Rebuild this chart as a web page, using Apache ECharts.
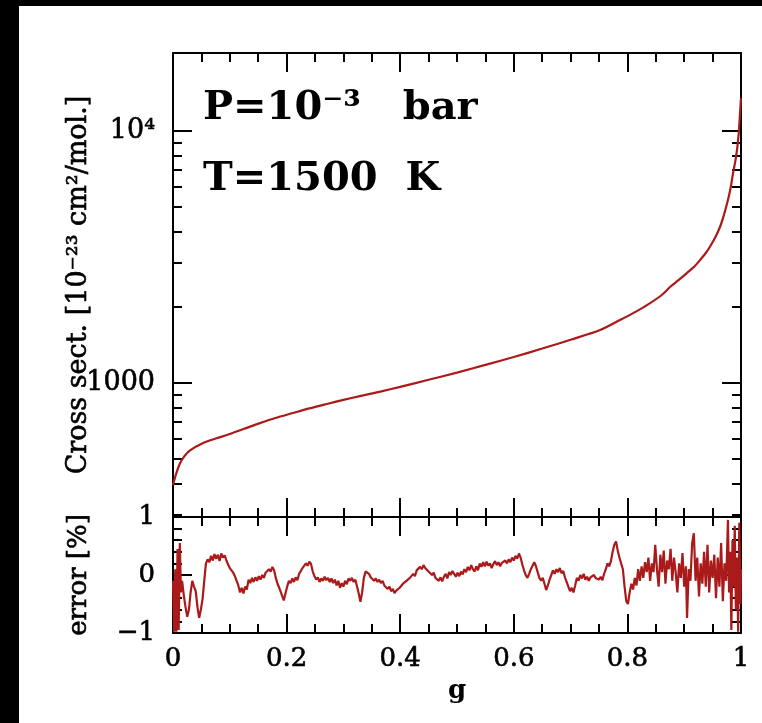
<!DOCTYPE html>
<html>
<head>
<meta charset="utf-8">
<script src="https://cdn.jsdelivr.net/npm/echarts@6/dist/echarts.min.js"></script>
<style>
  html, body { margin: 0; padding: 0; background: #fff; }
  #chart { width: 762px; height: 723px; }
</style>
</head>
<body>
<div id="chart"></div>
<script>
// Cumulative cross-section distribution: g vs cross section [1e-23 cm^2/mol.]
const crossG = [0, 0.006, 0.012, 0.018, 0.03, 0.053, 0.075, 0.095, 0.125, 0.153, 0.18, 0.211, 0.24, 0.271, 0.3, 0.329,
  0.365, 0.4, 0.45, 0.5, 0.55, 0.6, 0.65, 0.7, 0.752, 0.787, 0.815, 0.84, 0.86, 0.875, 0.89, 0.905, 0.918, 0.928,
  0.938, 0.945, 0.955, 0.963, 0.97, 0.977, 0.982, 0.986, 0.99, 0.993, 0.996, 0.998, 1.0];
const crossV = [394, 440, 478, 505, 540, 578, 602, 622, 658, 693, 726, 760, 793, 826, 857, 887,
  925, 965, 1030, 1100, 1180, 1268, 1370, 1485, 1623, 1778, 1920, 2076, 2230, 2404, 2560, 2735, 2900, 3077,
  3280, 3467, 3800, 4160, 4650, 5321, 6000, 6808, 7600, 8420, 9800, 11500, 13500];

// Relative error [%] of the fit, as [g, error] pairs
const errorPoints = [
  [0.000, -0.10], [0.002, -0.98], [0.004, 0.10], [0.006, -0.98], [0.008, 0.45], [0.010, -0.95], [0.012, 0.55],
  [0.014, -0.30], [0.016, -0.10], [0.019, -0.35], [0.022, -0.55], [0.025, -0.72], [0.028, -0.60], [0.031, -0.30],
  [0.034, -0.10], [0.037, -0.20], [0.040, -0.28], [0.043, -0.55], [0.046, -0.74], [0.049, -0.60], [0.052, -0.42],
  [0.055, -0.10], [0.058, 0.20], [0.061, 0.27], [0.064, 0.22], [0.067, 0.33], [0.070, 0.25], [0.073, 0.36],
  [0.076, 0.28], [0.079, 0.35], [0.082, 0.24], [0.085, 0.37], [0.088, 0.30], [0.091, 0.34], [0.094, 0.25],
  [0.097, 0.18], [0.100, 0.12], [0.103, 0.15], [0.106, 0.04], [0.109, -0.02], [0.112, -0.10], [0.115, -0.18],
  [0.118, -0.30], [0.121, -0.22], [0.124, -0.32], [0.127, -0.20], [0.130, -0.25], [0.133, -0.08], [0.136, -0.14],
  [0.139, -0.05], [0.142, -0.12], [0.145, -0.04], [0.148, -0.10], [0.151, -0.02], [0.154, -0.08], [0.157, 0.00],
  [0.160, -0.05], [0.163, 0.04], [0.166, 0.02], [0.169, 0.10], [0.172, 0.06], [0.175, 0.14], [0.178, 0.08],
  [0.181, -0.05], [0.184, -0.15], [0.187, -0.22], [0.190, -0.30], [0.193, -0.38], [0.195, -0.44], [0.198, -0.32],
  [0.201, -0.20], [0.204, -0.10], [0.207, -0.14], [0.210, -0.06], [0.213, -0.12], [0.216, -0.04], [0.219, -0.09],
  [0.222, 0.02], [0.225, 0.00], [0.228, 0.12], [0.231, 0.10], [0.234, 0.20], [0.237, 0.16], [0.240, 0.23],
  [0.243, 0.19], [0.246, 0.06], [0.249, -0.02], [0.252, -0.08], [0.255, -0.04], [0.258, -0.12], [0.261, -0.06],
  [0.264, -0.10], [0.267, -0.03], [0.270, -0.09], [0.273, -0.05], [0.276, -0.12], [0.279, -0.06], [0.282, -0.14],
  [0.285, -0.08], [0.288, -0.18], [0.291, -0.10], [0.294, -0.22], [0.297, -0.14], [0.300, -0.20], [0.303, -0.10],
  [0.306, -0.16], [0.309, -0.06], [0.312, -0.10], [0.315, -0.05], [0.318, -0.12], [0.321, -0.08], [0.324, -0.20],
  [0.327, -0.32], [0.330, -0.46], [0.333, -0.30], [0.336, -0.05], [0.339, 0.06], [0.342, 0.09], [0.345, 0.02],
  [0.348, -0.04], [0.351, -0.02], [0.354, -0.10], [0.357, -0.06], [0.360, -0.12], [0.363, -0.08], [0.366, -0.14],
  [0.369, -0.10], [0.372, -0.18], [0.375, -0.15], [0.378, -0.24], [0.381, -0.20], [0.384, -0.28], [0.387, -0.24],
  [0.390, -0.31], [0.393, -0.27], [0.396, -0.30], [0.399, -0.22], [0.402, -0.25], [0.405, -0.15], [0.408, -0.18],
  [0.411, -0.10], [0.414, -0.13], [0.417, -0.05], [0.420, -0.08], [0.423, 0.02], [0.426, -0.02], [0.429, 0.08],
  [0.432, 0.05], [0.435, 0.14], [0.438, 0.10], [0.441, 0.17], [0.444, 0.12], [0.447, 0.15], [0.450, 0.06],
  [0.453, 0.09], [0.456, 0.00], [0.459, 0.04], [0.462, -0.05], [0.465, -0.02], [0.468, -0.10], [0.471, -0.04],
  [0.474, -0.11], [0.477, -0.03], [0.480, 0.02], [0.483, -0.06], [0.486, 0.05], [0.489, 0.00], [0.492, 0.07],
  [0.495, 0.02], [0.498, -0.03], [0.501, 0.04], [0.504, -0.02], [0.507, 0.06], [0.510, 0.01], [0.513, 0.10],
  [0.516, 0.05], [0.519, 0.14], [0.522, 0.08], [0.525, 0.17], [0.528, 0.10], [0.531, 0.06], [0.534, 0.15],
  [0.537, 0.08], [0.540, 0.20], [0.543, 0.14], [0.546, 0.22], [0.549, 0.15], [0.552, 0.23], [0.555, 0.16],
  [0.558, 0.20], [0.561, 0.12], [0.564, 0.19], [0.567, 0.24], [0.570, 0.17], [0.573, 0.22], [0.576, 0.15],
  [0.579, 0.21], [0.582, 0.18], [0.585, 0.25], [0.588, 0.20], [0.591, 0.27], [0.594, 0.22], [0.597, 0.30],
  [0.600, 0.25], [0.603, 0.33], [0.606, 0.28], [0.609, 0.37], [0.612, 0.30], [0.615, 0.18], [0.618, 0.08],
  [0.621, 0.00], [0.624, -0.05], [0.627, 0.02], [0.630, 0.10], [0.633, 0.16], [0.636, 0.22], [0.639, 0.15],
  [0.642, 0.05], [0.645, -0.05], [0.648, -0.10], [0.651, -0.05], [0.654, -0.15], [0.657, -0.26], [0.660, -0.18],
  [0.663, -0.08], [0.666, 0.00], [0.669, 0.08], [0.672, 0.02], [0.675, 0.10], [0.678, 0.05], [0.681, 0.12],
  [0.684, 0.03], [0.687, 0.07], [0.690, -0.04], [0.693, -0.12], [0.696, -0.20], [0.699, -0.28], [0.702, -0.22],
  [0.705, -0.30], [0.708, -0.18], [0.711, -0.05], [0.714, -0.10], [0.717, 0.00], [0.720, -0.06], [0.723, 0.02],
  [0.726, -0.08], [0.729, -0.03], [0.732, -0.10], [0.735, -0.04], [0.738, -0.07], [0.741, 0.00], [0.744, -0.05],
  [0.747, -0.02], [0.750, -0.08], [0.753, -0.03], [0.756, -0.09], [0.759, 0.02], [0.762, 0.10], [0.765, 0.20],
  [0.768, 0.15], [0.771, 0.24], [0.774, 0.40], [0.777, 0.52], [0.780, 0.58], [0.783, 0.42], [0.786, 0.30],
  [0.789, 0.28], [0.792, 0.10], [0.795, -0.20], [0.798, -0.45], [0.801, -0.50], [0.804, -0.30], [0.807, -0.15],
  [0.810, -0.25], [0.813, -0.05], [0.816, -0.18], [0.819, 0.10], [0.822, -0.10], [0.825, 0.15], [0.828, -0.05],
  [0.831, 0.22], [0.834, 0.05], [0.837, 0.30], [0.840, -0.10], [0.843, 0.20], [0.846, 0.05], [0.849, 0.52],
  [0.852, 0.10], [0.855, -0.20], [0.858, 0.35], [0.861, 0.05], [0.864, 0.42], [0.867, -0.15], [0.870, 0.25],
  [0.873, 0.10], [0.876, 0.45], [0.879, -0.10], [0.882, 0.30], [0.885, 0.05], [0.888, -0.30], [0.891, 0.20],
  [0.894, -0.05], [0.897, 0.38], [0.900, -0.20], [0.903, 0.15], [0.905, -0.74], [0.908, 0.10], [0.911, -0.10],
  [0.914, 0.55], [0.917, 0.72], [0.920, -0.10], [0.923, 0.30], [0.926, -0.37], [0.929, 0.20], [0.932, -0.15],
  [0.935, 0.40], [0.938, -0.20], [0.941, 0.52], [0.944, -0.30], [0.947, 0.25], [0.950, -0.05], [0.953, 0.35],
  [0.956, -0.40], [0.959, 0.30], [0.962, -0.20], [0.965, 0.55], [0.968, -0.45], [0.971, 0.20], [0.974, -0.10],
  [0.977, 0.95], [0.979, -0.30], [0.981, 0.40], [0.983, -0.95], [0.985, 0.60], [0.987, -0.20], [0.989, 0.85],
  [0.991, -0.60], [0.993, 0.30], [0.995, -0.98], [0.997, 0.90], [0.999, -0.50], [1.000, 0.10]
];

// Tick positions on the logarithmic cross-section axis
const crossMajorTicks = [1000, 10000];
const crossMinorTicks = [300, 400, 500, 600, 700, 800, 900, 2000, 3000, 4000, 5000, 6000, 7000, 8000, 9000];

const FONT = 'DejaVu Serif';
const INK = '#000';
const CURVE = '#aa1a1a';
const MAJOR_LEN = 19;
const MINOR_LEN = 9;

const lineStyle = { color: INK, width: 2 };
// slightly heavier strokes for the serif text
const heavy = { textBorderColor: INK, textBorderWidth: 0.6 };

function gAxis(gridIndex, position, withLabels) {
  return {
    type: 'value', gridIndex, position, min: 0, max: 1, interval: 0.2,
    axisLine: { show: true, onZero: false, lineStyle },
    axisTick: { show: true, inside: true, length: MAJOR_LEN, lineStyle },
    minorTick: { show: true, splitNumber: 4, length: MINOR_LEN, lineStyle },
    splitLine: { show: false },
    minorSplitLine: { show: false },
    axisLabel: Object.assign({
      show: withLabels, margin: 13, color: INK, fontFamily: FONT, fontSize: 26,
      formatter: v => String(+v.toFixed(1))
    }, heavy),
    name: withLabels ? 'g' : '',
    nameLocation: 'middle',
    nameGap: 45,
    nameMoveOverlap: false,
    nameTextStyle: { color: INK, fontFamily: FONT, fontSize: 26, fontWeight: 'bold' }
  };
}

function crossAxis(position, ticks, tickLen, withLine, labels, name) {
  return {
    type: 'log', logBase: 10, gridIndex: 0, position, min: 294, max: 20400,
    axisLine: { show: withLine, lineStyle },
    axisTick: { show: true, inside: true, length: tickLen, customValues: ticks, lineStyle },
    minorTick: { show: false },
    splitLine: { show: false },
    axisLabel: labels ? Object.assign({
      show: true, customValues: crossMajorTicks, margin: 18, color: INK, fontFamily: FONT, fontSize: 27,
      formatter: v => (Math.round(v) === 10000 ? '10⁴' : String(Math.round(v)))
    }, heavy) : { show: false },
    name: name || '',
    nameLocation: 'middle',
    nameGap: 81,
    nameMoveOverlap: false,
    nameTextStyle: Object.assign({ color: INK, fontFamily: FONT, fontSize: 27 }, heavy)
  };
}

function errAxis(position, withLabels) {
  return {
    type: 'value', gridIndex: 1, position, min: -1, max: 1, interval: 1,
    axisLine: { show: true, onZero: false, lineStyle },
    axisTick: { show: true, inside: true, length: MAJOR_LEN, lineStyle },
    minorTick: { show: true, splitNumber: 5, length: MINOR_LEN, lineStyle },
    splitLine: { show: false },
    minorSplitLine: { show: false },
    axisLabel: Object.assign({
      show: withLabels, margin: 18, color: INK, fontFamily: FONT, fontSize: 26,
      formatter: v => (v < 0 ? '\u2212' + Math.abs(v) : String(v))
    }, heavy),
    name: withLabels ? 'error [%]' : '',
    nameLocation: 'middle',
    nameGap: 81,
    nameMoveOverlap: false,
    nameTextStyle: Object.assign({ color: INK, fontFamily: FONT, fontSize: 26 }, heavy)
  };
}

const chart = echarts.init(document.getElementById('chart'), null, { renderer: 'canvas' });

chart.setOption({
  backgroundColor: '#fff',
  animation: false,
  grid: [
    { left: 173, top: 53, width: 568, height: 464 },
    { left: 173, top: 517, width: 568, height: 116 }
  ],
  xAxis: [
    gAxis(0, 'bottom', false),
    gAxis(0, 'top', false),
    gAxis(1, 'top', false),
    gAxis(1, 'bottom', true)
  ],
  yAxis: [
    crossAxis('left', crossMajorTicks, MAJOR_LEN, true, true, 'Cross sect. [10⁻²³ cm²/mol.]'),
    crossAxis('left', crossMinorTicks, MINOR_LEN, false, false),
    crossAxis('right', crossMajorTicks, MAJOR_LEN, true, false),
    crossAxis('right', crossMinorTicks, MINOR_LEN, false, false),
    errAxis('left', true),
    errAxis('right', false)
  ],
  series: [
    {
      type: 'line', xAxisIndex: 0, yAxisIndex: 0,
      data: crossG.map((g, i) => [g, crossV[i]]),
      showSymbol: false, smooth: 0.3,
      lineStyle: { color: CURVE, width: 2.2 }
    },
    {
      type: 'line', xAxisIndex: 3, yAxisIndex: 4,
      data: errorPoints,
      showSymbol: false,
      lineStyle: { color: CURVE, width: 2.2 }
    }
  ],
  graphic: [
    { type: 'rect', left: 0, top: 0, shape: { width: 19, height: 723 }, style: { fill: '#000' }, z: 100 },
    { type: 'rect', left: 0, top: 0, shape: { width: 762, height: 6 }, style: { fill: '#000' }, z: 100 },
    {
      type: 'text', x: 203, y: 109, z: 50,
      style: { text: 'P=10⁻³   bar', font: 'bold 40px "DejaVu Serif"', fill: INK, verticalAlign: 'middle' }
    },
    {
      type: 'text', x: 203, y: 180, z: 50,
      style: { text: 'T=1500  K', font: 'bold 40px "DejaVu Serif"', fill: INK, verticalAlign: 'middle' }
    }
  ]
});
</script>
</body>
</html>
